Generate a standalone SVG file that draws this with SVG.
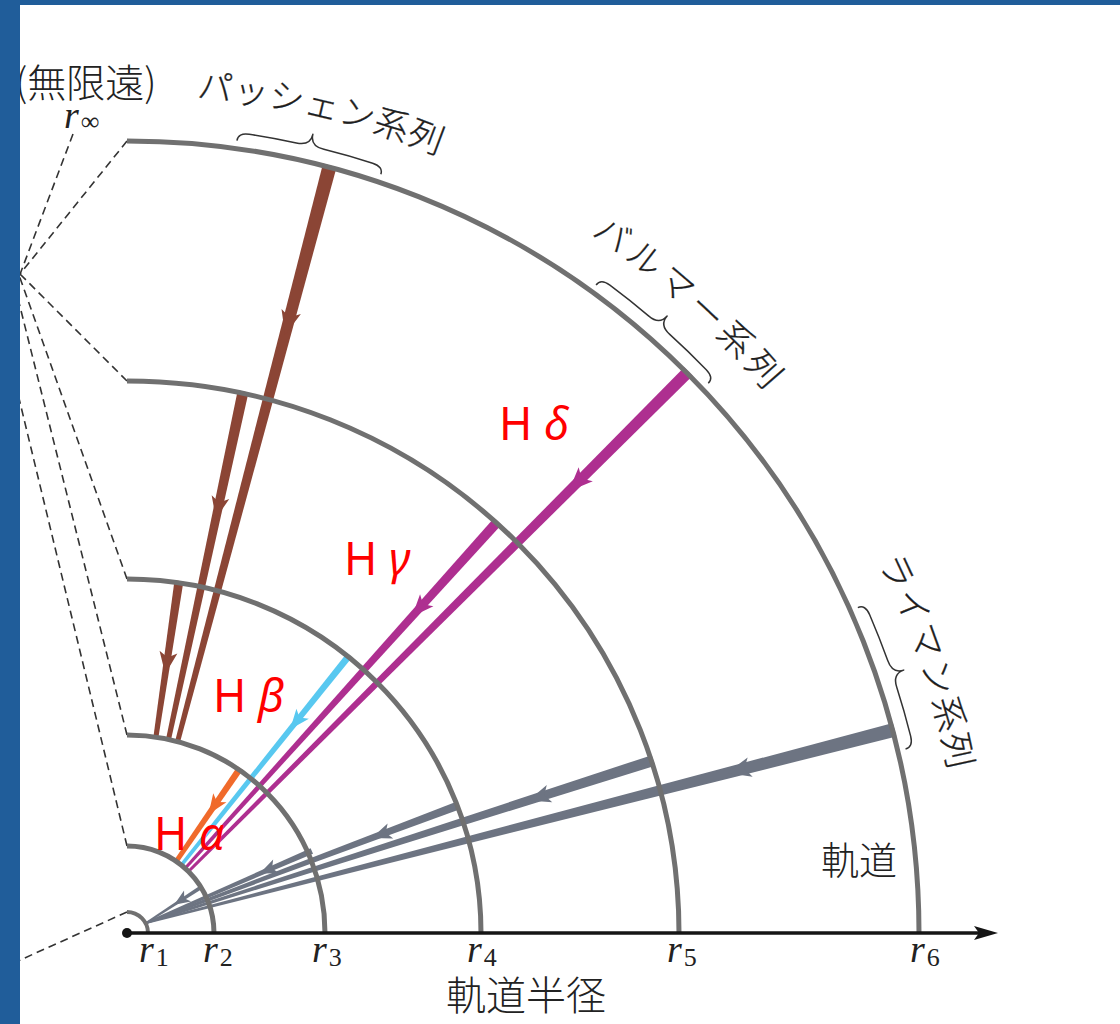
<svg xmlns="http://www.w3.org/2000/svg" xmlns:xlink="http://www.w3.org/1999/xlink" width="1120" height="1024" viewBox="0 0 1120 1024">
<defs>
<style>
.orbit{fill:none;stroke:#707070;stroke-width:5}
.orbit1{fill:none;stroke:#707070;stroke-width:4}
.dash{fill:none;stroke:#333;stroke-width:1.6;stroke-dasharray:8 5}
.brace{fill:none;stroke:#333;stroke-width:1.5;stroke-linejoin:round}
.pas{fill:#8b4535}
.ha{fill:#f06a2b}
.hb{fill:#58c8f0}
.hg{fill:#ae2f90}
.ly{fill:#6d7482}
.jp{font-family:"Noto Sans CJK JP","Noto Sans",sans-serif;font-weight:300;fill:#222}
.ser{font-family:"Noto Sans CJK JP","Noto Sans",sans-serif;font-weight:300;fill:#1e1e1e;font-size:35px;stroke:#1e1e1e;stroke-width:0.3}
.h{font-family:"Noto Sans","DejaVu Sans",sans-serif;fill:#ff0000;font-size:45px}
.gr{font-style:italic}
.rr{font-family:"Liberation Serif",serif;font-style:italic;fill:#222;font-size:38px}
.sub{font-style:normal;font-size:26px}
</style>
<path id="lblArc" d="M 127,95 A 838 838 0 0 1 965,933"/>
</defs>
<rect x="0" y="0" width="1120" height="1024" fill="#ffffff"/>

<g id="dashes">
<path class="dash" d="M73,134 L10,300.8"/>
<path class="dash" d="M127,141 L10,286.4"/>
<path class="dash" d="M127,381 L10,264"/>
<path class="dash" d="M127,579 L10,249.7"/>
<path class="dash" d="M127,735 L10,266.5"/>
<path class="dash" d="M127,846 L10,361"/>
<path class="dash" d="M127,912 L10,964.6"/>
</g>

<g id="connectors">
<g id="paschen">
<g transform="translate(329.3,167.3) rotate(104.8)"><polygon class="pas" points="-2,-7 594,-2.5 594,2.5 -2,7"/><polygon class="pas" points="173.2,0 149.2,-10 155.2,0 149.2,10"/></g>
<g transform="translate(242.7,393.3) rotate(102.1)"><polygon class="pas" points="-2,-5.5 354,-2.5 354,2.5 -2,5.5"/><polygon class="pas" points="128.1,0 106.1,-9 111.6,0 106.1,9"/></g>
<g transform="translate(178.7,582.8) rotate(98.4)"><polygon class="pas" points="-2,-4.5 156,-2.5 156,2.5 -2,4.5"/><polygon class="pas" points="92.1,0 70.1,-9 75.6,0 70.1,9"/></g>
</g>
<g id="balmer">
<g transform="translate(687,373) rotate(135)"><polygon class="hg" points="-2,-6 705,-1.5 705,1.5 -2,6"/><polygon class="hg" points="167.2,0 143.2,-10 149.2,0 143.2,10"/></g>
<g transform="translate(496.4,522.8) rotate(132)"><polygon class="hg" points="-2,-5 465,-1.5 465,1.5 -2,5"/><polygon class="hg" points="126.1,0 104.1,-9 109.6,0 104.1,9"/></g>
<g transform="translate(348.3,656.7) rotate(128.7)"><polygon class="hb" points="-2,-3.4 267,-1.8 267,1.8 -2,3.4"/><polygon class="hb" points="93,0 73,-8 78,0 73,8"/></g>
<g transform="translate(239.1,769.8) rotate(124.5)"><polygon class="ha" points="-2,-3.3 111,-2.4 111,2.4 -2,3.3"/><polygon class="ha" points="54,0 34,-8 39,0 34,8"/></g>
</g>
<g id="lyman">
<g transform="translate(892.7,730.3) rotate(165.53)"><polygon class="ly" points="-2,-7 771.2,-1 771.2,1 -2,7"/><polygon class="ly" points="171.2,0 147.2,-10 153.2,0 147.2,10"/></g>
<g transform="translate(651.5,761) rotate(162.23)"><polygon class="ly" points="-2,-5.5 530.8,-1 530.8,1 -2,5.5"/><polygon class="ly" points="129.1,0 107.1,-9 112.6,0 107.1,9"/></g>
<g transform="translate(455,806.7) rotate(159.37)"><polygon class="ly" points="-3,-4.2 330.2,-1 330.2,1 -3,4.2"/><polygon class="ly" points="89,0 69,-8 74,0 69,8"/></g>
<g transform="translate(310,851.7) rotate(156.5)"><polygon class="ly" points="-2,-3 178.8,-1 178.8,1 -2,3"/><polygon class="ly" points="54.9,0 36.9,-7.5 41.4,0 36.9,7.5"/></g>
<g transform="translate(200,888) rotate(147.05)"><polygon class="ly" points="-2,-2 64.4,-1 64.4,1 -2,2"/><polygon class="ly" points="30.8,0 14.8,-6.5 18.8,0 14.8,6.5"/></g>
</g>
</g>

<g id="orbit-r6"><path class="orbit" d="M127,141 A792 792 0 0 1 919,933"/></g>
<g id="orbit-r5"><path class="orbit" d="M127,381 A552 552 0 0 1 679,933"/></g>
<g id="orbit-r4"><path class="orbit" d="M127,579 A354 354 0 0 1 481,933"/></g>
<g id="orbit-r3"><path class="orbit" d="M127,735 A198 198 0 0 1 325,933"/></g>
<g id="orbit-r2"><path class="orbit" d="M127,846 A87 87 0 0 1 214,933"/></g>
<g id="orbit-r1"><path class="orbit1" d="M127,912 A21 21 0 0 1 148,933"/></g>

<g id="axis">
<line x1="127" y1="933" x2="982" y2="933" stroke="#151515" stroke-width="3.5"/>
<polygon points="998,933 974,926 979,933 974,940" fill="#151515"/>
<circle cx="127" cy="933" r="5" fill="#151515"/>
</g>

<g id="braces">
<path class="brace" d="M236.95,140.59 Q238.05,132.67 249.22,134.30 A808 808 0 0 1 296.37,142.95 Q310.13,146.02 312.85,134.34 Q310.13,146.02 323.84,149.35 A808 808 0 0 1 372.66,163.25 Q383.38,166.76 380.84,174.34"/>
<path class="brace" d="M596.10,284.96 Q600.80,278.48 609.89,285.15 A808 808 0 0 1 648.53,315.85 Q659.23,325.04 667.13,316.02 Q659.23,325.04 669.75,334.43 A808 808 0 0 1 706.27,369.69 Q714.08,377.82 708.27,383.31"/>
<path class="brace" d="M857.84,607.61 Q865.15,604.35 869.66,614.70 A808 808 0 0 1 887.72,660.62 Q892.35,673.94 903.72,670.09 Q892.35,673.94 896.75,687.34 A808 808 0 0 1 910.65,736.16 Q913.34,747.12 905.55,748.96"/>
</g>

<g id="series-labels">
<text class="ser" text-anchor="middle" letter-spacing="0.7"><textPath href="#lblArc" xlink:href="#lblArc" startOffset="194.5">パッシェン系列</textPath></text>
<text class="ser" text-anchor="middle" letter-spacing="5"><textPath href="#lblArc" xlink:href="#lblArc" startOffset="611.4">バルマー系列</textPath></text>
<text class="ser" text-anchor="middle" letter-spacing="2.3"><textPath href="#lblArc" xlink:href="#lblArc" startOffset="1042.8">ライマン系列</textPath></text>
</g>

<g id="line-labels">
<text class="h" x="499" y="440">H <tspan class="gr">δ</tspan></text>
<text class="h" x="344" y="575">H <tspan class="gr">γ</tspan></text>
<text class="h" x="213" y="712">H <tspan class="gr">β</tspan></text>
<text class="h" x="154" y="850">H <tspan class="gr">α</tspan></text>
</g>

<g id="texts">
<text class="jp" x="15" y="97" font-size="39">(無限遠)</text>
<text class="rr" x="64" y="128">r<tspan class="sub" dx="2" dy="2">∞</tspan></text>
<text class="jp" x="821" y="874" font-size="38">軌道</text>
<text class="jp" x="446" y="1010" font-size="40">軌道半径</text>
<text class="rr" x="139" y="962">r<tspan class="sub" dx="2" dy="4">1</tspan></text>
<text class="rr" x="203" y="962">r<tspan class="sub" dx="2" dy="4">2</tspan></text>
<text class="rr" x="312" y="962">r<tspan class="sub" dx="2" dy="4">3</tspan></text>
<text class="rr" x="467" y="962">r<tspan class="sub" dx="2" dy="4">4</tspan></text>
<text class="rr" x="667" y="962">r<tspan class="sub" dx="2" dy="4">5</tspan></text>
<text class="rr" x="910" y="962">r<tspan class="sub" dx="2" dy="4">6</tspan></text>
</g>

<g id="frame">
<rect x="0" y="0" width="20" height="1024" fill="#205d9a"/>
<rect x="0" y="0" width="1120" height="5" fill="#205d9a"/>
</g>
</svg>
